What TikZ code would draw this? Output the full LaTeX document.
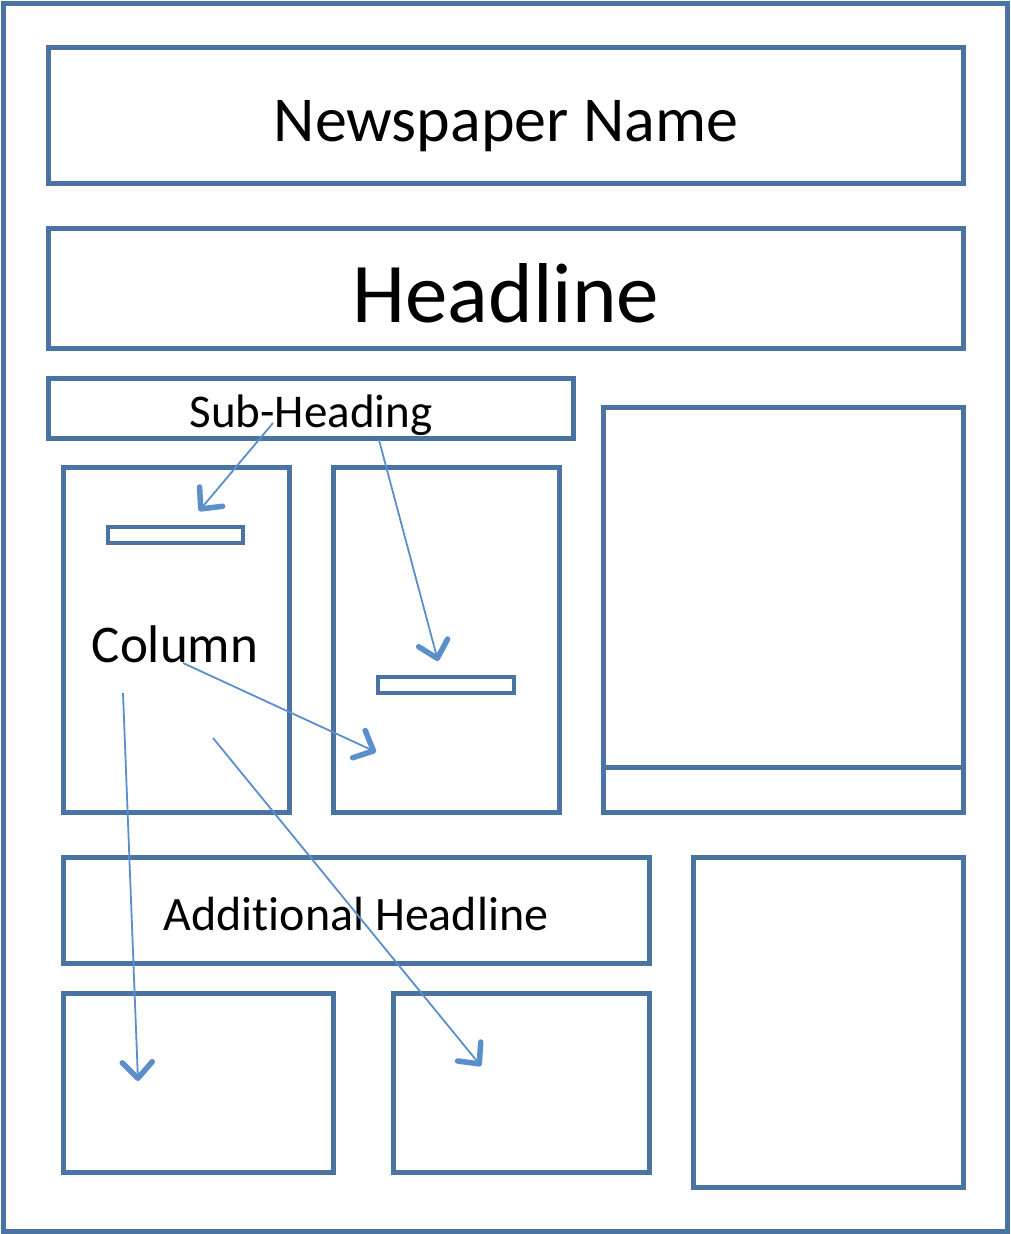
\documentclass[tikz,border=0pt]{standalone}
\usepackage{fontspec}
\setmainfont[Ligatures={NoCommon}]{Carlito}
\usetikzlibrary{arrows.meta}
\definecolor{frame}{HTML}{4A73A1}
\definecolor{arrc}{HTML}{5B8FCB}
\begin{document}
\begin{tikzpicture}[x=1pt,y=-1pt,
  box/.style={draw=frame,line width=5pt,rectangle,inner sep=0pt,outer sep=0pt,anchor=north west},
  thinbox/.style={draw=frame,line width=4pt,rectangle,inner sep=0pt,outer sep=0pt,anchor=north west},
  arr/.style={draw=arrc,line width=1.8pt,-{Straight Barb[length=16pt,width=30pt,line width=5.5pt,round]}},
  lbl/.style={anchor=base,inner sep=0pt,text=black}]
\useasboundingbox (0,0) rectangle (1010,1234);
\fill[white] (0,0) rectangle (1010,1234);
% outer frame
\node[box,minimum width=1004pt,minimum height=1228pt] (page) at (3,3) {};
% boxes
\node[box,minimum width=915pt,minimum height=136pt] (name) at (48,47) {};
\node[box,minimum width=915pt,minimum height=120pt] (head) at (48,228) {};
\node[box,minimum width=525pt,minimum height=60pt] (sub) at (48,378) {};
\node[box,minimum width=226pt,minimum height=345pt] (col1) at (63,467) {};
\node[thinbox,minimum width=135pt,minimum height=16pt] (bar1) at (108,527) {};
\node[box,minimum width=226pt,minimum height=345pt] (col2) at (333,467) {};
\node[thinbox,minimum width=136pt,minimum height=16pt] (bar2) at (378,677) {};
\node[box,minimum width=360pt,minimum height=405pt] (pic) at (603,407) {};
\draw[frame,line width=5pt] (pic.west |- 0,767) -- (pic.east |- 0,767);
\node[box,minimum width=586pt,minimum height=106pt] (addh) at (63,857) {};
\node[box,minimum width=270pt,minimum height=179pt] (bl) at (63,993) {};
\node[box,minimum width=256pt,minimum height=179pt] (bm) at (393,993) {};
\node[box,minimum width=270pt,minimum height=330pt] (br) at (693,857) {};
% labels
\node[lbl,font=\fontsize{64}{72}\selectfont] (tname) at (506,141) {Newspaper Name};
\node[lbl,font=\fontsize{85}{95}\selectfont] (thead) at (506,322) {Headline};
\node[lbl,font=\fontsize{47}{54}\selectfont] (tsub) at (311,427) {Sub-Heading};
\node[lbl,font=\fontsize{53}{60}\selectfont] (tcol) at (175,662) {Column};
\node[lbl,font=\fontsize{48}{56}\selectfont] (tadd) at (356,930) {Additional Headline};
% arrow ends
\coordinate (a1s) at (273,423); \coordinate (a1e) at (199,511);
\coordinate (a2s) at (379,440); \coordinate (a2e) at (438,661);
\coordinate (a3s) at (183,663); \coordinate (a3e) at (376,752);
\coordinate (a4s) at (123,693); \coordinate (a4e) at (138,1081);
\coordinate (a5s) at (213,738); \coordinate (a5e) at (481,1066);
\draw[arr] (a1s) -- (a1e);
\draw[arr] (a2s) -- (a2e);
\draw[arr] (a3s) -- (a3e);
\draw[arr] (a4s) -- (a4e);
\draw[arr] (a5s) -- (a5e);
\end{tikzpicture}
\end{document}
